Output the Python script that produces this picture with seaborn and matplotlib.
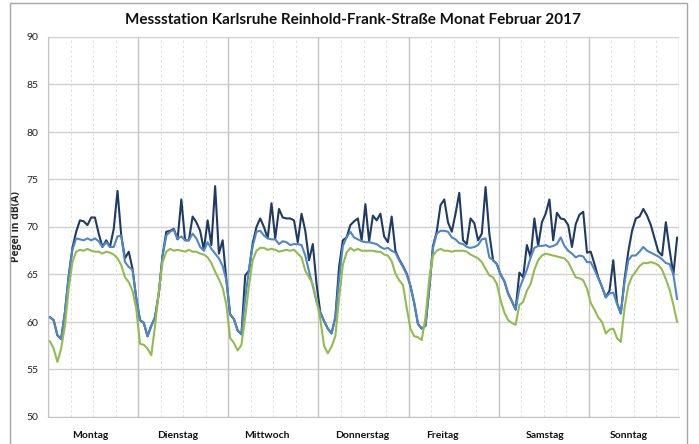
import numpy as np
import pandas as pd
import seaborn as sns
import matplotlib.pyplot as plt
from matplotlib.patches import Rectangle

# Day names shown under the axis
days = ["Montag", "Dienstag", "Mittwoch", "Donnerstag", "Freitag", "Samstag", "Sonntag"]

# Hourly levels in dB(A), one row per day (24 values each)
lvl_top = [
    60.5, 60.2, 58.6, 58.2, 61.0, 64.8, 67.8, 69.5, 70.7, 70.6, 70.2, 71.0, 71.0, 69.3, 67.9, 68.6, 67.9, 69.8, 73.8, 69.1, 66.7, 67.4, 65.6, 62.5,
    60.2, 59.9, 58.5, 59.6, 60.5, 63.0, 67.0, 69.5, 69.6, 69.8, 68.7, 72.9, 68.6, 68.6, 71.1, 70.5, 69.6, 67.6, 70.7, 68.1, 74.3, 67.2, 68.6, 64.4,
    60.8, 60.3, 59.1, 58.7, 64.9, 65.4, 68.3, 70.0, 70.9, 70.0, 68.8, 72.5, 68.8, 71.9, 71.0, 70.9, 70.9, 70.7, 68.4, 71.4, 69.6, 66.5, 68.2, 64.0,
    61.0, 60.1, 59.3, 58.8, 60.5, 65.8, 68.6, 68.9, 70.2, 70.6, 70.9, 68.6, 72.4, 68.5, 71.2, 70.7, 71.4, 69.0, 68.4, 71.1, 67.5, 66.6, 65.9, 65.1,
    63.8, 62.0, 59.8, 59.3, 59.6, 63.5, 68.0, 69.5, 72.3, 72.9, 70.5, 69.5, 71.4, 73.6, 68.6, 68.2, 70.9, 70.4, 68.6, 69.3, 74.2, 69.3, 66.5, 66.1,
    65.0, 64.3, 63.0, 62.2, 61.3, 65.2, 64.7, 68.1, 66.8, 70.9, 68.0, 70.5, 71.4, 72.9, 68.6, 71.5, 70.9, 70.8, 70.2, 67.9, 70.3, 71.3, 71.6, 67.3,
    67.4, 66.1, 64.7, 63.7, 62.6, 63.3, 66.5, 62.0, 60.9, 64.5, 67.4, 69.6, 70.9, 71.1, 71.9, 71.2, 70.2, 68.8, 67.4, 67.0, 70.5, 67.6, 65.0, 68.9,
]
lvl_mid = [
    60.5, 60.2, 58.6, 58.2, 61.0, 64.8, 67.6, 68.8, 68.7, 68.6, 68.8, 68.6, 68.8, 68.5, 67.9, 68.4, 67.9, 67.9, 69.0, 69.1, 66.3, 65.8, 65.5, 62.5,
    60.2, 59.9, 58.5, 59.6, 60.5, 63.0, 67.0, 69.1, 69.5, 69.7, 68.8, 69.0, 68.6, 68.6, 69.3, 68.8, 67.9, 67.5, 68.4, 67.7, 67.2, 66.7, 65.9, 64.4,
    60.8, 60.3, 59.1, 58.7, 62.5, 65.5, 68.0, 69.5, 69.6, 69.1, 68.8, 68.7, 68.7, 68.2, 68.5, 68.4, 68.1, 68.2, 68.2, 68.1, 67.0, 65.3, 63.8, 62.1,
    61.0, 60.1, 59.3, 58.8, 60.5, 64.5, 68.0, 68.9, 69.5, 68.9, 68.7, 68.5, 68.4, 68.4, 68.3, 68.2, 67.9, 67.7, 67.8, 67.5, 67.3, 66.5, 65.8, 65.0,
    63.8, 62.0, 59.8, 59.3, 59.6, 63.5, 67.8, 69.3, 69.6, 69.6, 69.5, 68.9, 68.7, 68.3, 68.2, 67.9, 67.8, 67.9, 68.1, 68.7, 68.8, 66.8, 66.5, 66.1,
    65.0, 64.3, 63.0, 62.2, 61.3, 63.5, 64.5, 65.5, 66.8, 67.8, 68.0, 68.0, 68.1, 67.9, 68.0, 68.2, 68.9, 68.0, 67.5, 67.2, 66.8, 67.0, 66.9, 66.3,
    66.3, 65.5, 64.6, 63.7, 62.6, 63.0, 63.1, 61.9, 60.9, 64.2, 66.5, 67.0, 67.0, 67.4, 67.9, 67.5, 67.3, 67.1, 66.9, 66.6, 66.2, 66.1, 65.0, 62.4,
]
lvl_low = [
    58.0, 57.2, 55.8, 57.2, 59.6, 63.5, 66.3, 67.4, 67.6, 67.5, 67.7, 67.5, 67.4, 67.4, 67.2, 67.4, 67.3, 67.1, 66.7, 66.0, 64.7, 64.2, 63.3, 61.4,
    57.7, 57.6, 57.2, 56.5, 59.6, 63.2, 66.3, 67.4, 67.7, 67.5, 67.6, 67.5, 67.4, 67.6, 67.4, 67.4, 67.2, 67.1, 66.8, 66.2, 65.3, 64.5, 63.6, 61.8,
    58.3, 57.8, 57.0, 57.6, 60.5, 63.8, 66.5, 67.5, 67.8, 67.8, 67.6, 67.7, 67.6, 67.4, 67.5, 67.6, 67.5, 67.6, 67.2, 66.8, 65.4, 64.7, 64.0, 62.3,
    60.3, 57.5, 56.7, 57.4, 58.5, 62.5, 66.0, 67.3, 67.8, 67.5, 67.7, 67.5, 67.5, 67.5, 67.5, 67.4, 67.4, 67.1, 67.0, 66.4, 65.1, 64.4, 63.9, 61.5,
    59.3, 58.5, 58.4, 58.1, 60.5, 64.5, 67.0, 67.5, 67.7, 67.5, 67.5, 67.4, 67.5, 67.5, 67.5, 67.4, 67.1, 66.9, 66.7, 66.3, 65.6, 64.9, 64.7, 64.0,
    62.3, 61.0, 60.2, 59.9, 59.7, 61.8, 62.1, 63.3, 64.0, 65.5, 66.5, 67.0, 67.2, 67.1, 67.0, 66.9, 66.8, 66.7, 66.3, 65.5, 64.7, 64.6, 64.4, 63.5,
    62.0, 61.3, 60.5, 60.0, 58.8, 59.2, 59.3, 58.3, 57.9, 61.5, 63.8, 64.8, 65.3, 65.9, 66.2, 66.2, 66.3, 66.2, 66.0, 65.5, 64.5, 63.4, 61.8, 60.0,
]

n = len(lvl_top)
df = pd.DataFrame({"stunde": np.arange(n), "top": lvl_top, "mid": lvl_mid, "low": lvl_low})
df_long = df.melt(id_vars="stunde", var_name="reihe", value_name="pegel")

sns.set_style("white")
plt.rcParams["font.family"] = ["Lato", "DejaVu Sans"]

fig = plt.figure(figsize=(6.99, 4.44), dpi=100)
ax = fig.add_axes([48 / 699, 27 / 444, 631 / 699, 380 / 444])

# gridlines first so the curves sit on top
for v in range(50, 91, 5):
    ax.axhline(v, color="#d0d0d0", lw=1.0, zorder=0)
for k in range(0, n + 1, 6):
    xb = k - 0.5
    if k % 24 == 0:
        ax.axvline(xb, color="#c4c4c4", lw=1.0, zorder=0)
    else:
        ax.axvline(xb, color="#e0e0e0", lw=0.7, ls=(0, (2.5, 2.5)), zorder=0)

sns.lineplot(data=df_long, x="stunde", y="pegel", hue="reihe",
             hue_order=["top", "mid", "low"],
             palette={"top": "#1f3a63", "mid": "#4f86c6", "low": "#93bb4f"},
             linewidth=1.5, legend=False, ax=ax, zorder=3)

ax.set_xlim(-0.5, n - 0.5)
ax.set_ylim(50, 90)
ax.set_yticks(range(50, 91, 5))
ax.tick_params(axis="y", labelsize=7.5, length=3, color="#c4c4c4", labelcolor="#222222", pad=4)

# 6-hour tick marks, day names as minor tick labels
ax.set_xticks(np.arange(-0.5, n, 6))
ax.set_xticklabels([])
ax.tick_params(axis="x", which="major", length=4, color="#c4c4c4")
lab_off = [11.3, 10.4, 10.4, 11.6, 9.1, 12.3, 10.7]
ax.set_xticks([d * 24 + o - 0.5 for d, o in enumerate(lab_off)], minor=True)
ax.set_xticklabels(days, minor=True, fontsize=7.5, fontweight="bold", color="#111111")
ax.tick_params(axis="x", which="minor", length=0, pad=10)

ax.set_xlabel("")
ax.set_ylabel("Pegel in dB(A)", fontsize=7.5, fontweight="bold", labelpad=3,
              family=["Open Sans", "DejaVu Sans"])

for s in ["top", "right"]:
    ax.spines[s].set_visible(False)
ax.spines["left"].set_color("#c4c4c4")
ax.spines["bottom"].set_color("#c4c4c4")

fig.text(353 / 699, 1 - 20 / 444, "Messstation Karlsruhe Reinhold-Frank-Straße Monat Februar 2017",
         ha="center", va="center", fontsize=11, fontweight="bold", color="#111111")

# outer chart border
fig.patches.append(Rectangle((10 / 699, -0.02), 677 / 699, 1 - 3 / 444 + 0.02,
                             transform=fig.transFigure, fill=False, ec="#a6a6a6", lw=1.0))

fig.savefig("out.png", dpi=100)
